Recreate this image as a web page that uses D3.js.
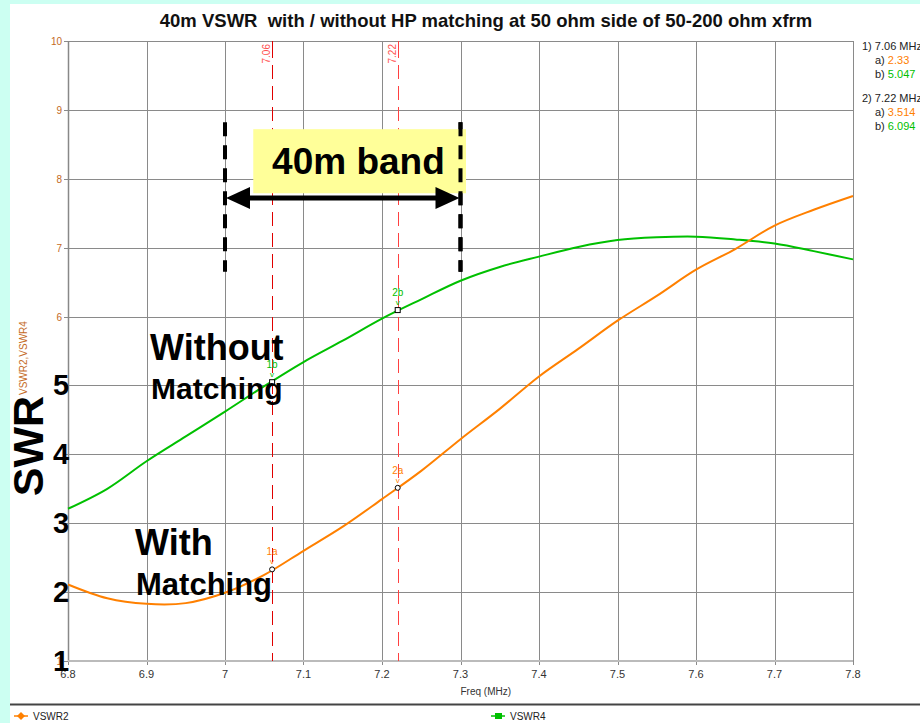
<!DOCTYPE html>
<html><head><meta charset="utf-8">
<script src="https://cdn.jsdelivr.net/npm/d3@7"></script>
<style>
body{margin:0;background:#ccfff2;}
svg{display:block;font-family:Arial,"Liberation Sans",sans-serif;}
text{white-space:pre;}
</style>
</head><body>
<svg id="c" width="920" height="723"></svg>
<script>
// ---- data ----
const title = "40m VSWR  with / without HP matching at 50 ohm side of 50-200 ohm xfrm";
const freqs = [6.8,6.85,6.9,6.95,7.0,7.05,7.1,7.15,7.2,7.25,7.3,7.35,7.4,7.45,7.5,7.55,7.6,7.65,7.7,7.75,7.8];
const vswr2 = [2.11,1.91,1.83,1.84,1.99,2.25,2.6,2.95,3.35,3.76,4.22,4.66,5.13,5.53,5.94,6.3,6.68,6.98,7.32,7.55,7.75];
const vswr4 = [3.21,3.5,3.9,4.26,4.62,4.99,5.34,5.65,5.97,6.25,6.52,6.72,6.87,7.01,7.11,7.15,7.16,7.12,7.06,6.95,6.83];
const xTicks = [6.8,6.9,7.0,7.1,7.2,7.3,7.4,7.5,7.6,7.7,7.8];
const xTickLabels = ["6.8","6.9","7","7.1","7.2","7.3","7.4","7.5","7.6","7.7","7.8"];
const yTicks = [1,2,3,4,5,6,7,8,9,10];
const smallYLabels = [1,6,7,8,9,10];
const bigYLabels = [1,2,3,4,5];
const markerFreqs = [7.06,7.22];
const markerLabels = ["7.06","7.22"];
const markerA = [2.33,3.514];
const markerB = [5.047,6.094];
const bandStart = 7.0, bandEnd = 7.3;
const seriesNames = ["VSWR2","VSWR4"];

// ---- layout ----
const svg = d3.select("#c");
const W = 920, H = 723;
const orange = "#ff8000", green = "#00c000";
const x = d3.scaleLinear().domain([6.8,7.8]).range([68,853]);
const y = d3.scaleLinear().domain([1,10]).range([661,41]);
const cx = v => Math.round(x(v)) + 0.5;
const cy = v => Math.round(y(v)) + 0.5;

svg.append("rect").attr("width",W).attr("height",H).attr("fill","#ccfff2");
svg.append("rect").attr("x",10).attr("y",4).attr("width",W-10).attr("height",H-4).attr("fill","#fff");

// title
svg.append("text").attr("x",486).attr("y",27).attr("text-anchor","middle")
  .attr("font-size",18.5).attr("font-weight","bold").attr("fill","#111").text(title);

// grid
const g = svg.append("g");
g.selectAll(".vg").data(xTicks).join("line")
  .attr("x1",d=>cx(d)).attr("x2",d=>cx(d)).attr("y1",y(10)).attr("y2",y(1)+4)
  .attr("stroke","#8a8a8a").attr("stroke-width",1);
g.selectAll(".hg").data(yTicks).join("line")
  .attr("x1",x(6.8)-4).attr("x2",x(7.8)).attr("y1",d=>cy(d)).attr("y2",d=>cy(d))
  .attr("stroke","#8a8a8a").attr("stroke-width",1);
// axes lines
g.append("line").attr("x1",cx(6.8)).attr("x2",cx(6.8)).attr("y1",y(10)).attr("y2",y(1))
  .attr("stroke","#888").attr("stroke-width",1.5);
g.append("line").attr("x1",x(6.8)).attr("x2",x(7.8)).attr("y1",y(1)).attr("y2",y(1))
  .attr("stroke","#bbb").attr("stroke-width",2);

// x tick labels
g.selectAll(".xl").data(xTicks).join("text")
  .attr("x",d=>x(d)).attr("y",y(1)+17).attr("text-anchor","middle")
  .attr("font-size",11).attr("fill","#333").text((d,i)=>xTickLabels[i]);
svg.append("text").attr("x",x(7.3)).attr("y",695).attr("font-size",10).attr("fill","#333").text("Freq (MHz)");

// y tick labels small
g.selectAll(".yl").data(smallYLabels).join("text")
  .attr("x",62).attr("y",d=>y(d)+4).attr("text-anchor","end")
  .attr("font-size",10).attr("fill","#c46a1e").text(d=>d);

// y axis title
svg.append("text").attr("transform","translate(27,395) rotate(-90)")
  .attr("font-size",10).attr("fill","#c46a1e").text(seriesNames.join(","));

// marker lines
const mcol = ["#e00000","#ff4040"];
markerFreqs.forEach((f,i)=>{
  svg.append("line").attr("x1",cx(f)).attr("x2",cx(f)).attr("y1",y(10)+24).attr("y2",y(1))
    .attr("stroke",mcol[i]).attr("stroke-width",1).attr("stroke-dasharray","14,7");
  svg.append("line").attr("x1",cx(f)).attr("x2",cx(f)).attr("y1",y(10)).attr("y2",y(10)+17)
    .attr("stroke",mcol[i]).attr("stroke-width",1);
  svg.append("text").attr("transform",`translate(${x(f)-2},${y(10)+3}) rotate(-90)`)
    .attr("text-anchor","end").attr("font-size",10).attr("fill","#ff5050").text(markerLabels[i]);
});

// curves
const line = d3.line().x((d,i)=>x(freqs[i])).y(d=>y(d)).curve(d3.curveCatmullRom.alpha(0.5));
svg.append("path").datum(vswr4).attr("d",line).attr("fill","none").attr("stroke",green).attr("stroke-width",2);
svg.append("path").datum(vswr2).attr("d",line).attr("fill","none").attr("stroke",orange).attr("stroke-width",2);

// markers
markerFreqs.forEach((f,i)=>{
  [[markerA[i],orange,"a","circle"],[markerB[i],green,"b","square"]].forEach(([v,c,s,shape])=>{
    const px=x(f), py=y(v);
    svg.append("text").attr("x",px).attr("y",py-14).attr("text-anchor","middle")
      .attr("font-size",10).attr("fill",c).text((i+1)+s);
    svg.append("text").attr("x",px).attr("y",py-5).attr("text-anchor","middle")
      .attr("font-size",8).attr("fill",c).text("v");
    if(shape==="circle"){
      svg.append("circle").attr("cx",px).attr("cy",py).attr("r",2.5).attr("fill","#fff").attr("stroke","#000").attr("stroke-width",1);
    } else {
      svg.append("rect").attr("x",px-2.5).attr("y",py-2.5).attr("width",5).attr("height",5).attr("fill","#fff").attr("stroke","#000").attr("stroke-width",1);
    }
  });
});

// readout
const ro = svg.append("g").attr("font-size",11);
markerFreqs.forEach((f,i)=>{
  const y0 = 50 + i*52;
  ro.append("text").attr("x",862).attr("y",y0).attr("fill","#222").text(`${i+1}) ${markerLabels[i]} MHz`);
  const ta = ro.append("text").attr("x",875).attr("y",y0+14);
  ta.append("tspan").attr("fill","#222").text("a) ");
  ta.append("tspan").attr("fill",orange).text(markerA[i]);
  const tb = ro.append("text").attr("x",875).attr("y",y0+28);
  tb.append("tspan").attr("fill","#222").text("b) ");
  tb.append("tspan").attr("fill",green).text(markerB[i]);
});

// band annotation
const bandTop = 8.82, bandBot = 6.65, arrowV = 7.72;
[bandStart,bandEnd].forEach(f=>{
  svg.append("line").attr("x1",x(f)).attr("x2",x(f)).attr("y1",y(bandTop)).attr("y2",y(bandBot))
    .attr("stroke","#000").attr("stroke-width",4).attr("stroke-dasharray","14,9");
});
svg.append("rect").attr("x",x(7.036)).attr("y",y(8.72)).attr("width",x(7.307)-x(7.036)).attr("height",y(7.79)-y(8.72))
  .attr("fill","#ffff99");
svg.append("text").attr("x",x(7.17)).attr("y",174).attr("text-anchor","middle")
  .attr("font-size",37).attr("font-weight","bold").attr("fill","#000").text("40m band");
svg.append("line").attr("x1",x(bandEnd)).attr("x2",x(bandEnd)).attr("y1",y(bandTop)).attr("y2",y(bandBot))
  .attr("stroke","#000").attr("stroke-width",4).attr("stroke-dasharray","14,9");
// arrow
const ax1 = x(bandStart)+1, ax2 = x(bandEnd)-1, ay = y(arrowV);
svg.append("line").attr("x1",ax1+20).attr("x2",ax2-20).attr("y1",ay).attr("y2",ay).attr("stroke","#000").attr("stroke-width",5);
svg.append("path").attr("d",`M${ax1},${ay} L${ax1+24},${ay-11} L${ax1+24},${ay+11} Z`).attr("fill","#000");
svg.append("path").attr("d",`M${ax2},${ay} L${ax2-24},${ay-11} L${ax2-24},${ay+11} Z`).attr("fill","#000");

// big text annotations
const bt = svg.append("g").attr("font-weight","bold").attr("fill","#000");
bt.append("text").attr("x",150).attr("y",360).attr("font-size",36).text("Without");
bt.append("text").attr("x",151).attr("y",399).attr("font-size",30).text("Matching");
bt.append("text").attr("x",135).attr("y",555).attr("font-size",36).text("With");
bt.append("text").attr("x",136).attr("y",595).attr("font-size",31).text("Matching");
bt.selectAll(".by").data(bigYLabels).join("text")
  .attr("x",53).attr("y",d=>y(d)+10).attr("font-size",29).text(d=>d);
bt.append("text").attr("transform","translate(43,446) rotate(-90)").attr("text-anchor","middle")
  .attr("font-size",43).text("SWR");

// bottom legend
svg.append("line").attr("x1",10).attr("x2",W).attr("y1",704.5).attr("y2",704.5).attr("stroke","#444").attr("stroke-width",2);
svg.append("line").attr("x1",14).attr("x2",28).attr("y1",716).attr("y2",716).attr("stroke",orange).attr("stroke-width",1.5);
svg.append("path").attr("d","M21,712 L25,716 L21,720 L17,716 Z").attr("fill",orange);
svg.append("text").attr("x",33).attr("y",720).attr("font-size",10).attr("fill","#222").text(seriesNames[0]);
svg.append("line").attr("x1",491).attr("x2",505).attr("y1",716).attr("y2",716).attr("stroke",green).attr("stroke-width",1.5);
svg.append("rect").attr("x",495).attr("y",713).attr("width",7).attr("height",6).attr("fill",green);
svg.append("text").attr("x",510).attr("y",720).attr("font-size",10).attr("fill","#222").text(seriesNames[1]);
</script>
</body></html>
